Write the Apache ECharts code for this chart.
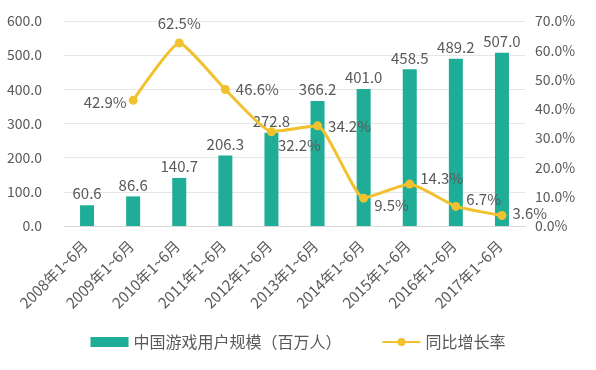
<!DOCTYPE html>
<html><head><meta charset="utf-8">
<script src="https://cdn.jsdelivr.net/npm/echarts@6/dist/echarts.min.js"></script>
<style>html,body{margin:0;padding:0;background:#fff}#c{width:596px;height:370px}</style>
</head><body><div id="c"></div>
<script>
var categories = ['2008年1~6月','2009年1~6月','2010年1~6月','2011年1~6月','2012年1~6月','2013年1~6月','2014年1~6月','2015年1~6月','2016年1~6月','2017年1~6月'];
var users = [60.6, 86.6, 140.7, 206.3, 272.8, 366.2, 401.0, 458.5, 489.2, 507.0];
var growth = [null, 42.9, 62.5, 46.6, 32.2, 34.2, 9.5, 14.3, 6.7, 3.6];
var leftTicks = [0, 100, 600];
var rightTicks = [0, 10, 70];

var labelPos = [null, ['left',[4,2]], ['top',[0,-2]], ['right',[0,0]], ['right',[-4,14]], ['right',[0,0]], ['right',[0,7]], ['right',[0,-6]], ['right',[0,-7]], ['right',[0,-2]]];
var lineData = growth.map(function(v,i){
  if (v === null) return null;
  return {value: v, label: {position: labelPos[i][0], offset: labelPos[i][1]}};
});
var font = '"Noto Sans CJK SC", "Noto Sans", sans-serif';
var grey = '#595959';
var chart = echarts.init(document.getElementById('c'));
chart.setOption({
  animation: false,
  textStyle: {fontFamily: font},
  grid: {left: 64, right: 71, top: 21, bottom: 144, containLabel: false},
  legend: {
    bottom: 15, left: 'center', itemWidth: 38, itemHeight: 10, itemGap: 40,
    textStyle: {fontSize: 16, color: grey, fontFamily: font},
    data: [{name: '中国游戏用户规模（百万人）', icon: 'rect'}, {name: '同比增长率'}]
  },
  xAxis: {
    type: 'category', data: categories,
    axisLine: {lineStyle: {color: '#d9d9d9'}},
    axisTick: {show: false},
    axisLabel: {rotate: 45, fontSize: 15, color: grey, interval: 0, margin: 15, padding: [0, 3, 0, 0], fontFamily: font}
  },
  yAxis: [{
    type: 'value', min: leftTicks[0], max: leftTicks[2], interval: leftTicks[1],
    axisLine: {show: false}, axisTick: {show: false},
    axisLabel: {fontSize: 14, color: grey, margin: 22, formatter: function(v){return v.toFixed(1);}, fontFamily: font},
    splitLine: {lineStyle: {color: '#e6e6e6'}}
  },{
    type: 'value', min: rightTicks[0], max: rightTicks[2], interval: rightTicks[1],
    axisLine: {show: false}, axisTick: {show: false},
    axisLabel: {fontSize: 14, color: grey, margin: 10, formatter: function(v){return v.toFixed(1)+'%';}, fontFamily: font},
    splitLine: {show: false}
  }],
  series: [{
    name: '中国游戏用户规模（百万人）', type: 'bar', data: users, barWidth: 14,
    itemStyle: {color: '#1fad97'},
    label: {show: true, position: 'top', fontSize: 15, color: grey, formatter: function(p){return p.value.toFixed(1);}, distance: 4, fontFamily: font}
  },{
    name: '同比增长率', type: 'line', yAxisIndex: 1, data: lineData, smooth: 0.15,
    connectNulls: false,
    symbol: 'circle', symbolSize: 9,
    lineStyle: {color: '#f2c12e', width: 3},
    itemStyle: {color: '#f2c12e'},
    label: {show: true, fontSize: 15, color: grey, distance: 6, formatter: function(p){return p.value.toFixed(1)+'%';}, fontFamily: font}
  }]
});
</script></body></html>
